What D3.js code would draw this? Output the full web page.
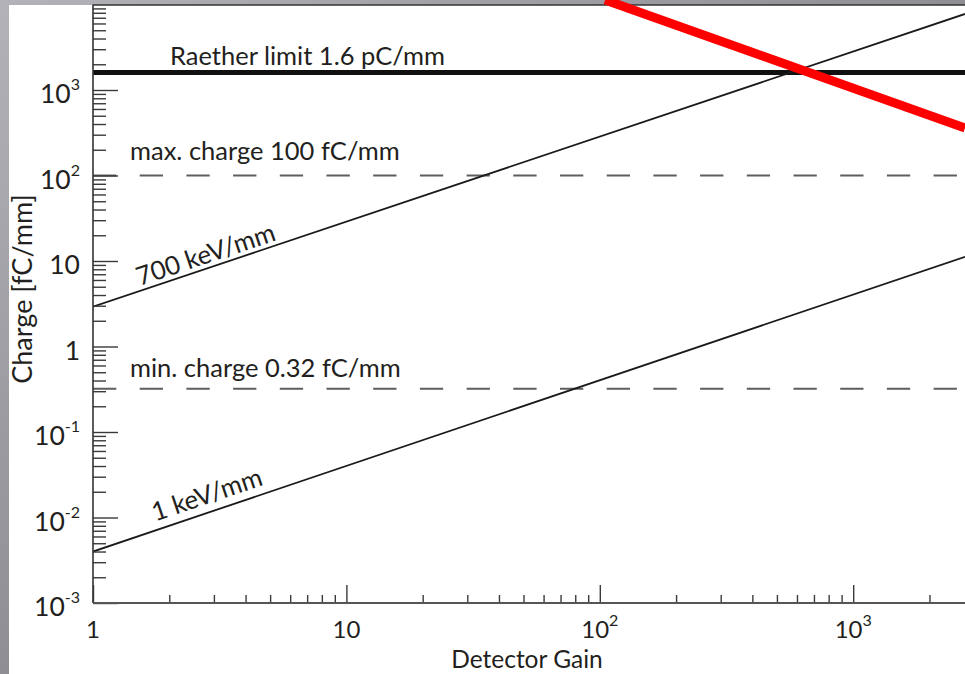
<!DOCTYPE html>
<html>
<head>
<meta charset="utf-8">
<script src="https://cdn.jsdelivr.net/npm/d3@7"></script>
<style>
  html, body { margin: 0; padding: 0; background: #a5a4ab; }
  svg { display: block; }
  text { font-family: Lato, "Open Sans", sans-serif; fill: #231f20; }
</style>
</head>
<body>
<svg id="chart" width="965" height="674"></svg>
<script>
// Detector gain (x) and collected charge per mm (y)
const gainEnds = [1, 2763];
const charge700keV = [2.92, 7750];
const charge1keV = [0.004, 11.2];
const lineLabels = ["700 keV/mm", "1 keV/mm"];
const lineLabelGain = [1.53, 1.76];

const limitNames = ["Raether limit 1.6 pC/mm", "max. charge 100 fC/mm", "min. charge 0.32 fC/mm"];
const limitValues = [1600, 100, 0.32];

// red strike-through line across the limit crossing
const strikeGains = [105, 2763];
const strikeCharges = [11300, 360];

const yTickValues = [1e-3, 1e-2, 1e-1, 1, 10, 100, 1000];
const yTickBase = ["10", "10", "10", "1", "10", "10", "10"];
const yTickExp = ["-3", "-2", "-1", "", "", "2", "3"];
const xTickValues = [1, 10, 100, 1000];
const xTickBase = ["1", "10", "10", "10"];
const xTickExp = ["", "", "2", "3"];

const xTitle = "Detector Gain";
const yTitle = "Charge [fC/mm]";

const W = 965, H = 674;
const plotLeft = 93, plotBottom = 603, plotTop = 4.5;
const decadeX = 253.4;

const svg = d3.select("#chart");

// backdrop: grey frame with white panel
const defs = svg.append("defs");
const grad = defs.append("linearGradient").attr("id", "bg")
  .attr("x1", 0).attr("y1", 0).attr("x2", 1).attr("y2", 1);
grad.append("stop").attr("offset", 0).attr("stop-color", "#b3b2b8");
grad.append("stop").attr("offset", 0.5).attr("stop-color", "#8f8e95");
grad.append("stop").attr("offset", 1).attr("stop-color", "#6e6d74");
svg.append("rect").attr("width", W).attr("height", H).attr("fill", "url(#bg)");
svg.append("rect").attr("x", 9).attr("y", 5).attr("width", W - 9).attr("height", H - 5).attr("fill", "#ffffff");

const x = d3.scaleLog().domain([1, 1e4]).range([plotLeft, plotLeft + 4 * decadeX]);
const y = d3.scaleLog().domain([1e-3, 1e4]).range([plotBottom, plotTop]);

defs.append("clipPath").attr("id", "plotClip")
  .append("rect").attr("x", plotLeft).attr("y", plotTop).attr("width", W - plotLeft).attr("height", plotBottom - plotTop);

const plot = svg.append("g").attr("clip-path", "url(#plotClip)");

// minor tick positions
const minorY = [];
for (let e = -3; e < 4; e++) for (let m = 2; m <= 9; m++) minorY.push(m * Math.pow(10, e));
const minorX = [];
for (let e = 0; e < 4; e++) for (let m = 2; m <= 9; m++) minorX.push(m * Math.pow(10, e));

// y axis: ticks pointing into the plot
const yMinor = d3.axisRight(y).tickValues(minorY).tickSize(13).tickFormat("").tickSizeOuter(0);
const yMajor = d3.axisRight(y).tickValues(yTickValues).tickSize(25).tickFormat("").tickSizeOuter(0);
[yMinor, yMajor].forEach(ax => {
  const g = svg.append("g").attr("transform", `translate(${plotLeft},0)`).call(ax);
  g.select(".domain").remove();
  g.selectAll("line").attr("stroke", "#3a3a3a").attr("stroke-width", 1.4);
});

// x axis: ticks pointing up
const xMinor = d3.axisTop(x).tickValues(minorX).tickSize(8).tickFormat("").tickSizeOuter(0);
const xMajor = d3.axisTop(x).tickValues(xTickValues).tickSize(18).tickFormat("").tickSizeOuter(0);
[xMinor, xMajor].forEach(ax => {
  const g = svg.append("g").attr("transform", `translate(0,${plotBottom})`).call(ax);
  g.select(".domain").remove();
  g.selectAll("line").attr("stroke", "#3a3a3a").attr("stroke-width", 1.4);
});

// frame lines
svg.append("line").attr("x1", plotLeft).attr("x2", plotLeft).attr("y1", plotTop).attr("y2", plotBottom)
  .attr("stroke", "#333").attr("stroke-width", 1.6);
svg.append("line").attr("x1", plotLeft).attr("x2", W).attr("y1", plotBottom).attr("y2", plotBottom)
  .attr("stroke", "#555").attr("stroke-width", 2);
svg.append("line").attr("x1", plotLeft).attr("x2", W).attr("y1", y(1e4) + 0.5).attr("y2", y(1e4) + 0.5)
  .attr("stroke", "#333").attr("stroke-width", 1.6);

// limit lines
limitValues.forEach((v, i) => {
  const solid = i === 0;
  plot.append("line")
    .attr("x1", plotLeft).attr("x2", W)
    .attr("y1", y(v)).attr("y2", y(v))
    .attr("stroke", solid ? "#111" : "#5e5e5e")
    .attr("stroke-width", solid ? 5 : 2)
    .attr("stroke-dasharray", solid ? null : "23.3,23.4");
});
const limitLabelPos = [[170, -8], [130, -16], [130, -12]];
limitNames.forEach((t, i) => {
  svg.append("text")
    .attr("x", limitLabelPos[i][0])
    .attr("y", y(limitValues[i]) + limitLabelPos[i][1])
    .attr("font-size", 25.5)
    .text(t);
});

// charge lines for the two energy deposits
const line = d3.line().x(d => x(d[0])).y(d => y(d[1]));
[charge700keV, charge1keV].forEach(series => {
  plot.append("path")
    .datum(gainEnds.map((g, i) => [g, series[i]]))
    .attr("d", line)
    .attr("fill", "none")
    .attr("stroke", "#1a1a1a")
    .attr("stroke-width", 1.8);
});

// rotated labels following each line
const labelOffset = [-5, -9];
[charge700keV, charge1keV].forEach((series, i) => {
  const g0 = lineLabelGain[i];
  const slope = Math.log(series[1] / series[0]) / Math.log(gainEnds[1] / gainEnds[0]);
  const q = series[0] * Math.pow(g0 / gainEnds[0], slope);
  const p0 = [x(g0), y(q)];
  const p1 = [x(g0 * 10), y(q * Math.pow(10, slope))];
  const ang = Math.atan2(p1[1] - p0[1], p1[0] - p0[0]) * 180 / Math.PI;
  svg.append("text")
    .attr("transform", `translate(${p0[0]},${p0[1] + labelOffset[i]}) rotate(${ang})`)
    .attr("font-size", 25.8)
    .text(lineLabels[i]);
});

// red strike line (drawn over everything, not clipped)
svg.append("path")
  .datum(strikeGains.map((g, i) => [g, strikeCharges[i]]))
  .attr("d", line)
  .attr("fill", "none")
  .attr("stroke", "#ff0000")
  .attr("stroke-width", 9);

// y tick labels with superscript exponents
yTickValues.forEach((v, i) => {
  const t = svg.append("text")
    .attr("x", 80).attr("y", y(v) + 13)
    .attr("text-anchor", "end")
    .attr("font-size", 26.5);
  t.append("tspan").text(yTickBase[i]);
  if (yTickExp[i]) t.append("tspan").attr("font-size", 16).attr("dy", -13).text(yTickExp[i]);
});

// x tick labels
xTickValues.forEach((v, i) => {
  const t = svg.append("text")
    .attr("x", x(v)).attr("y", 638)
    .attr("text-anchor", "middle")
    .attr("font-size", 24);
  t.append("tspan").text(xTickBase[i]);
  if (xTickExp[i]) t.append("tspan").attr("font-size", 16).attr("dy", -12).text(xTickExp[i]);
});

// axis titles
svg.append("text").attr("x", 527).attr("y", 668).attr("text-anchor", "middle")
  .attr("font-size", 24.5).text(xTitle);
svg.append("text").attr("transform", "translate(32,289) rotate(-90)")
  .attr("text-anchor", "middle").attr("font-size", 27).text(yTitle);
</script>
</body>
</html>
